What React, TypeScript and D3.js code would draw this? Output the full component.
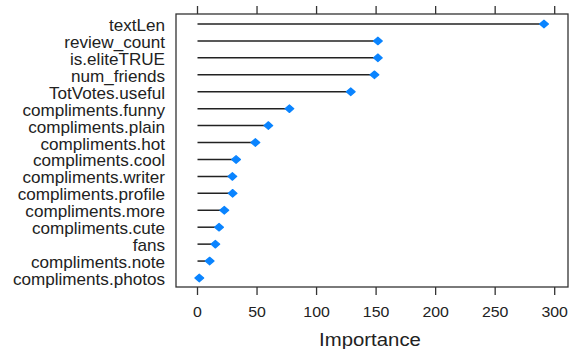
import React, { useRef, useEffect } from "react";
import * as d3 from "d3";

// variable names, top to bottom
const features = [
  "textLen",
  "review_count",
  "is.eliteTRUE",
  "num_friends",
  "TotVotes.useful",
  "compliments.funny",
  "compliments.plain",
  "compliments.hot",
  "compliments.cool",
  "compliments.writer",
  "compliments.profile",
  "compliments.more",
  "compliments.cute",
  "fans",
  "compliments.note",
  "compliments.photos",
];
const importance = [291, 151.5, 151.5, 148.6, 128.7, 77.2, 59.5, 48.6, 32.4, 29.3, 29.5, 22.5, 18.1, 15, 10.2, 1.5];
const xTicks = [0, 50, 100, 150, 200, 250, 300];

const W = 570;
const H = 349;

const App = () => {
  const ref = useRef<SVGSVGElement | null>(null);

  useEffect(() => {
    if (!ref.current) return;
    const svg = d3.select(ref.current);
    svg.selectAll("*").remove();

    const box = { left: 176, right: 568, top: 14, bottom: 287 };
    const font = "'Liberation Sans', Arial, sans-serif";

    const x = d3.scaleLinear().domain([0, 300]).range([197.5, 554.7]);
    const y = d3.scalePoint<string>().domain(features).range([24, 278]);

    // panel frame
    svg
      .append("rect")
      .attr("x", box.left)
      .attr("y", box.top)
      .attr("width", box.right - box.left)
      .attr("height", box.bottom - box.top)
      .attr("fill", "none")
      .attr("stroke", "#333")
      .attr("stroke-width", 1.3);

    // top ticks (no labels)
    svg
      .append("g")
      .selectAll("line")
      .data(xTicks)
      .enter()
      .append("line")
      .attr("x1", (d) => x(d))
      .attr("x2", (d) => x(d))
      .attr("y1", box.top)
      .attr("y2", box.top - 8)
      .attr("stroke", "#333")
      .attr("stroke-width", 1.3);

    // bottom axis
    const bottom = svg.append("g");
    bottom
      .selectAll("line")
      .data(xTicks)
      .enter()
      .append("line")
      .attr("x1", (d) => x(d))
      .attr("x2", (d) => x(d))
      .attr("y1", box.bottom)
      .attr("y2", box.bottom + 8)
      .attr("stroke", "#333")
      .attr("stroke-width", 1.3);
    bottom
      .selectAll("text")
      .data(xTicks)
      .enter()
      .append("text")
      .attr("transform", (d) => `translate(${x(d)},317) scale(1.06,1)`)
      .attr("text-anchor", "middle")
      .style("font-family", font)
      .style("font-size", "15px")
      .attr("fill", "#222")
      .text((d) => d);

    svg
      .append("text")
      .attr("transform", `translate(${(box.left + box.right) / 2 - 2},346) scale(1.1,1)`)
      .attr("text-anchor", "middle")
      .style("font-family", font)
      .style("font-size", "18.5px")
      .attr("fill", "#222")
      .text("Importance");

    const rows = features.map((f, i) => ({ name: f, value: importance[i] }));

    // category labels
    svg
      .append("g")
      .selectAll("text")
      .data(rows)
      .enter()
      .append("text")
      .attr("transform", (d) => `translate(165,${(y(d.name) as number) + 7}) scale(1.07,1)`)
      .attr("text-anchor", "end")
      .style("font-family", font)
      .style("font-size", "16px")
      .attr("fill", "#222")
      .text((d) => d.name);

    // stems
    svg
      .append("g")
      .selectAll("line")
      .data(rows)
      .enter()
      .append("line")
      .attr("x1", x(0))
      .attr("x2", (d) => x(d.value))
      .attr("y1", (d) => y(d.name) as number)
      .attr("y2", (d) => y(d.name) as number)
      .attr("stroke", "#222")
      .attr("stroke-width", 1.5);

    // diamonds
    svg
      .append("g")
      .selectAll("path")
      .data(rows)
      .enter()
      .append("path")
      .attr("d", "M0,-3.8L4.4,0L0,3.8L-4.4,0Z")
      .attr("transform", (d) => `translate(${x(d.value)},${y(d.name)})`)
      .attr("fill", "#0a84ff")
      .attr("stroke", "#0a84ff")
      .attr("stroke-width", 1.2)
      .attr("stroke-linejoin", "round");
  }, []);

  return (
    <svg
      ref={ref}
      width={W}
      height={H}
      style={{ position: "absolute", left: 0, top: 0, background: "#fff" }}
    />
  );
};

export default App;
